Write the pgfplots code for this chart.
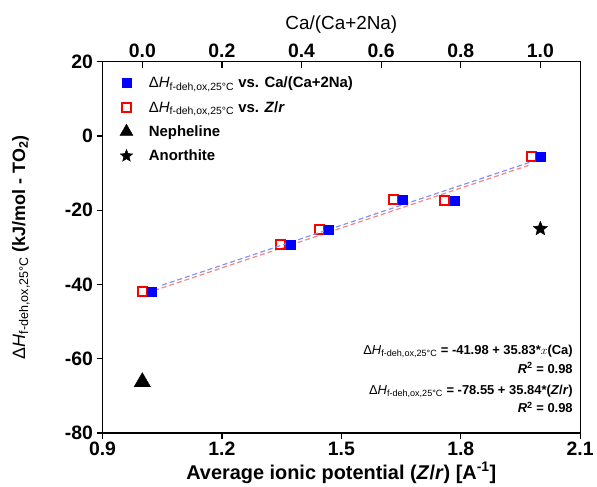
\documentclass[border=0pt]{standalone}
\usepackage{fontspec}
\setmainfont{Liberation Sans}
\usepackage{pgfplots}
\pgfplotsset{compat=1.18}
\definecolor{fitred}{RGB}{240,135,135}
\definecolor{fitblue}{RGB}{135,145,240}
\pgfdeclareplotmark{fstar}{%
  \pgfpathmoveto{\pgfpointpolar{90}{\pgfplotmarksize}}%
  \pgfpathlineto{\pgfpointpolar{126}{0.45\pgfplotmarksize}}%
  \pgfpathlineto{\pgfpointpolar{162}{\pgfplotmarksize}}%
  \pgfpathlineto{\pgfpointpolar{198}{0.45\pgfplotmarksize}}%
  \pgfpathlineto{\pgfpointpolar{234}{\pgfplotmarksize}}%
  \pgfpathlineto{\pgfpointpolar{270}{0.45\pgfplotmarksize}}%
  \pgfpathlineto{\pgfpointpolar{306}{\pgfplotmarksize}}%
  \pgfpathlineto{\pgfpointpolar{342}{0.45\pgfplotmarksize}}%
  \pgfpathlineto{\pgfpointpolar{18}{\pgfplotmarksize}}%
  \pgfpathlineto{\pgfpointpolar{54}{0.45\pgfplotmarksize}}%
  \pgfpathclose\pgfusepathqfillstroke}
\newcommand{\dH}{{\mdseries Δ\textit{H}\textsubscript{f-deh,ox,25°C}}}
\begin{document}
\begin{tikzpicture}
\begin{axis}[
  name=main, scale only axis, width=480pt, height=373pt,
  xmin=0.9, xmax=2.1, ymin=-80, ymax=20,
  xtick={0.9,1.2,1.5,1.8,2.1}, ytick={-80,-60,-40,-20,0,20},
  xticklabels={0.9,1.2,1.5,1.8,2.1},
  xtick pos=lower, ytick pos=left, tick align=outside,
  major tick length=6pt, axis line style={line width=1.2pt}, tick style={line width=1.2pt,black},
  /pgf/number format/assume math mode=true,
  tick label style={font=\fontsize{19.5}{22}\selectfont\bfseries},
  clip=false,
  legend style={at={(0.03,0.97)}, anchor=north west, draw=none, fill=none,
    font=\fontsize{15}{18}\selectfont\bfseries, row sep=8pt,
    /tikz/every odd column/.append style={column sep=14pt}},
  legend cell align=left,
]
\addlegendimage{only marks, mark=square*, blue, mark size=4.5pt}
\addlegendentry{\dH{} vs. Ca/(Ca+2Na)}
\addlegendimage{only marks, mark=square, red, mark size=4.6pt, mark options={line width=2pt}}
\addlegendentry{\dH{} vs. \textit{Z}/\textit{r}}
\addlegendimage{only marks, mark=triangle*, black, mark size=7.5pt}
\addlegendentry{Nepheline}
\addlegendimage{only marks, mark=fstar, black, mark size=6.5pt}
\addlegendentry{Anorthite}
\addplot[fitred, dash pattern=on 5pt off 3pt, line width=1.2pt, forget plot]
  coordinates {(1.03,-41.64) (1.97,-7.95)};
\addplot[only marks, mark=square, red, mark size=4.6pt, mark options={line width=2pt}, forget plot]
  coordinates {(1.0,-42.0) (1.348,-29.2) (1.445,-25.2) (1.63,-17.2) (1.76,-17.4) (1.978,-5.6)};
\addplot[only marks, mark=triangle*, black, mark size=9.5pt, forget plot]
  coordinates {(1.0,-66.3)};
\addplot[only marks, mark=fstar, black, mark size=7.5pt, forget plot]
  coordinates {(2.0,-25.0)};
\end{axis}
\begin{axis}[
  scale only axis, width=480pt, height=373pt,
  xmin=-0.1, xmax=1.1, ymin=-80, ymax=20,
  axis x line*=top, axis y line=none,
  xtick={0,0.2,0.4,0.6,0.8,1.0},
  xticklabels={0.0,0.2,0.4,0.6,0.8,1.0},
  tick align=inside, major tick length=6pt,
  axis line style={line width=1.2pt}, tick style={line width=1.2pt,black},
  /pgf/number format/assume math mode=true,
  tick label style={font=\fontsize{19.5}{22}\selectfont\bfseries},
  clip=false,
]
\addplot[fitblue, dash pattern=on 5pt off 3pt, line width=1.2pt]
  coordinates {(0.05,-40.19) (0.975,-7.05)};
\addplot[only marks, mark=square*, blue, mark size=4.5pt]
  coordinates {(0.023,-42.0) (0.373,-29.2) (0.468,-25.2) (0.653,-17.2) (0.785,-17.4) (1.0,-5.6)};
\end{axis}
\node[rotate=90, font=\fontsize{18}{21}\selectfont\bfseries] at ([xshift=-82pt]main.west)
  {\dH{} (kJ/mol - TO\textsubscript{2})};
\node[font=\fontsize{20}{23}\selectfont\bfseries] at ([yshift=-40pt]main.south)
  {Average ionic potential (\textit{Z}/\textit{r}) [A\textsuperscript{-1}]};
\node[font=\fontsize{19}{22}\selectfont] at ([yshift=37pt]main.north)
  {Ca/(Ca+2Na)};
\node[anchor=north east, align=right, font=\fontsize{13}{19}\selectfont\bfseries]
  at ([xshift=-4pt,yshift=92pt]main.south east)
  {\dH{} = -41.98 + 35.83*$x$(Ca)\\ \textit{R}\textsuperscript{2} = 0.98\\[2pt]
   \dH{} = -78.55 + 35.84*(\textit{Z}/\textit{r})\\ \textit{R}\textsuperscript{2} = 0.98};
\path ([shift={(-103pt,-50pt)}]main.south west) rectangle ([shift={(14pt,62pt)}]main.north east);
\end{tikzpicture}
\end{document}
